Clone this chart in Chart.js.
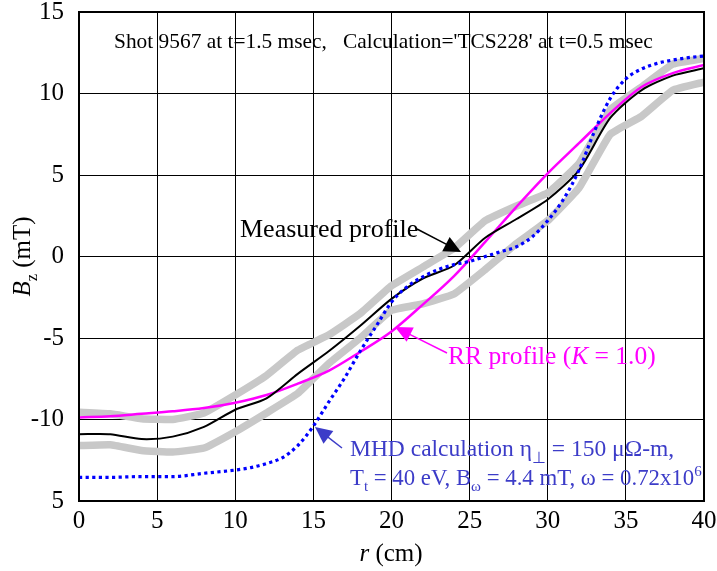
<!DOCTYPE html>
<html><head><meta charset="utf-8">
<script src="https://cdn.jsdelivr.net/npm/chart.js@4.4.1/dist/chart.umd.min.js"></script>
<style>html,body{margin:0;padding:0;background:#fff;}canvas{display:block;}</style>
</head><body>
<canvas id="c" width="717" height="571"></canvas>
<script>
// ---- data (r in cm, Bz in mT) ----
const rProfile = [0,2,4,6,8,10,12,14,16,18,20,22,24,26,28,30,32,34,36,38,40];
const measured = [-10.9,-10.9,-11.2,-11.05,-10.45,-9.4,-8.7,-7.2,-5.8,-4.25,-2.6,-1.35,-0.55,1.15,2.3,3.5,5.3,8.5,10.2,11.1,11.55];
const upperBand = [-9.55,-9.65,-9.95,-10.0,-9.6,-8.5,-7.3,-5.75,-4.8,-3.5,-1.8,-0.65,0.5,2.2,3.1,3.9,5.7,9.0,10.4,11.8,12.15];
const lowerBand = [-11.6,-11.55,-11.9,-12.0,-11.75,-10.75,-9.6,-8.4,-6.55,-5.0,-3.3,-2.9,-2.3,-0.8,0.8,2.2,4.2,7.5,8.6,10.2,10.7];
const rrProfile = [-9.87,-9.8,-9.65,-9.5,-9.3,-8.97,-8.5,-7.8,-7.0,-5.85,-4.6,-2.95,-1.2,0.9,3.05,5.1,6.95,8.8,10.4,11.25,11.75];
const rMHD = [0,2,4,6,8,10,11,12,13,14,15,16,17,18,19,20,21,22,23,24,25,26,27,28,29,30,31,32,33,34,35,36,37,38,39,40];
const mhd = [-13.55,-13.55,-13.5,-13.5,-13.3,-13.1,-12.95,-12.7,-12.35,-11.6,-10.4,-8.9,-7.45,-5.8,-4.3,-2.8,-1.85,-1.25,-0.8,-0.5,-0.3,0,0.3,0.6,1.2,2.2,3.5,5.3,7.7,9.7,10.9,11.5,11.85,12.05,12.2,12.3];
const xTickValues = [0,5,10,15,20,25,30,35,40];
const yTickValues = [-15,-10,-5,0,5,10,15];
const yTickLabels = ['5','-10','-5','0','5','10','15'];

const SERIF = '"Liberation Serif","Times New Roman",serif';
const pts = (xs, ys) => xs.map((x, i) => ({x: x, y: ys[i]}));

function rich(ctx, segs, x, y, size, color, align) {
  const fontFor = s => (s.it ? 'italic ' : '') + ((s.sub || s.sup) ? size * 0.66 : size) + 'px ' + SERIF;
  let w = 0;
  for (const s of segs) { ctx.font = fontFor(s); w += ctx.measureText(s.t).width; }
  let cx = align === 'center' ? x - w / 2 : (align === 'right' ? x - w : x);
  ctx.fillStyle = color; ctx.textBaseline = 'alphabetic'; ctx.textAlign = 'left';
  for (const s of segs) {
    ctx.font = fontFor(s);
    const dy = s.sub ? size * 0.28 : (s.sup ? -size * 0.38 : 0);
    ctx.fillText(s.t, cx, y + dy);
    cx += ctx.measureText(s.t).width;
  }
}
function arrow(ctx, x1, y1, x2, y2, color, head, hw) {
  const a = Math.atan2(y2 - y1, x2 - x1);
  ctx.strokeStyle = color; ctx.fillStyle = color; ctx.lineWidth = 1.5;
  ctx.beginPath(); ctx.moveTo(x1, y1);
  ctx.lineTo(x2 - Math.cos(a) * head * 0.8, y2 - Math.sin(a) * head * 0.8); ctx.stroke();
  ctx.beginPath(); ctx.moveTo(x2, y2);
  ctx.lineTo(x2 - Math.cos(a) * head + Math.sin(a) * hw, y2 - Math.sin(a) * head - Math.cos(a) * hw);
  ctx.lineTo(x2 - Math.cos(a) * head - Math.sin(a) * hw, y2 - Math.sin(a) * head + Math.cos(a) * hw);
  ctx.closePath(); ctx.fill();
}

const annotate = {
  id: 'annotate',
  afterDraw(chart) {
    const ctx = chart.ctx, a = chart.chartArea;
    ctx.save();
    ctx.strokeStyle = '#000'; ctx.lineWidth = 2;
    ctx.strokeRect(a.left, a.top, a.right - a.left, a.bottom - a.top);
    // header
    rich(ctx, [{t: "Shot 9567 at t=1.5 msec,   Calculation='TCS228' at t=0.5 msec"}], 114, 48, 21.4, '#000', 'left');
    // measured
    rich(ctx, [{t: 'Measured profile'}], 240, 237, 26, '#000', 'left');
    arrow(ctx, 417, 229, 461, 252, '#000', 17, 8);
    // RR
    rich(ctx, [{t: 'RR profile ('}, {t: 'K', it: true}, {t: ' = 1.0)'}], 448, 364, 25.5, '#ff00ff', 'left');
    arrow(ctx, 447, 353, 395, 327, '#ff00ff', 17, 8);
    // MHD
    const mc = '#3c3cc8';
    rich(ctx, [{t: 'MHD calculation \u03b7'}, {t: '\u22a5', sub: true}, {t: ' = 150 \u03bc\u03a9-m,'}], 350, 456, 23.5, mc, 'left');
    rich(ctx, [{t: 'T'}, {t: 't', sub: true}, {t: ' = 40 eV, B'}, {t: '\u03c9', sub: true}, {t: ' = 4.4 mT, \u03c9 = 0.72x10'}, {t: '6', sup: true}], 350, 485, 22.8, mc, 'left');
    arrow(ctx, 342, 448, 315, 427, mc, 17, 8);
    // axis titles
    rich(ctx, [{t: 'r', it: true}, {t: ' (cm)'}], 391, 561, 25, '#000', 'center');
    ctx.translate(30, (a.top + a.bottom) / 2);
    ctx.rotate(-Math.PI / 2);
    rich(ctx, [{t: 'B', it: true}, {t: 'z', sub: true}, {t: ' (mT)'}], 0, 0, 25, '#000', 'center');
    ctx.restore();
  }
};

new Chart(document.getElementById('c'), {
  type: 'line',
  data: {
    datasets: [
      {label: 'MHD calculation', data: pts(rMHD, mhd), borderColor: '#0000ff', borderWidth: 3.2, borderDash: [3.2, 3.4], pointRadius: 0, fill: false, cubicInterpolationMode: 'monotone'},
      {label: 'Measured profile', data: pts(rProfile, measured), borderColor: '#000', borderWidth: 2, pointRadius: 0, fill: false, tension: 0.25},
      {label: 'RR profile', data: pts(rProfile, rrProfile), borderColor: '#ff00ff', borderWidth: 2.5, pointRadius: 0, fill: false, cubicInterpolationMode: 'monotone'},
      {label: 'upper', data: pts(rProfile, upperBand), borderColor: '#c8c8c8', borderWidth: 7.5, pointRadius: 0, fill: false, tension: 0.1, borderJoinStyle: 'round', borderCapStyle: 'round'},
      {label: 'lower', data: pts(rProfile, lowerBand), borderColor: '#c8c8c8', borderWidth: 7.5, pointRadius: 0, fill: false, tension: 0.1, borderJoinStyle: 'round', borderCapStyle: 'round'}
    ]
  },
  options: {
    responsive: false, animation: false, devicePixelRatio: 1,
    layout: {padding: {top: 12, right: 13, left: 0, bottom: 0}},
    plugins: {legend: {display: false}, tooltip: {enabled: false}},
    scales: {
      x: {
        type: 'linear', min: 0, max: 40,
        afterBuildTicks: s => { s.ticks = xTickValues.map(v => ({value: v})); },
        afterFit: s => { s.height = 70; s.paddingLeft = 0; s.paddingRight = 0; },
        ticks: {color: '#000', font: {family: SERIF, size: 25}, padding: 5, maxRotation: 0, callback: v => String(v)},
        grid: {color: '#000', lineWidth: 1, drawTicks: false},
        border: {color: '#000', width: 2}
      },
      y: {
        type: 'linear', min: -15, max: 15,
        afterBuildTicks: s => { s.ticks = yTickValues.map(v => ({value: v})); },
        afterFit: s => { s.width = 79; s.paddingTop = 0; s.paddingBottom = 0; },
        ticks: {color: '#000', font: {family: SERIF, size: 25}, padding: 15, callback: v => yTickLabels[yTickValues.indexOf(v)]},
        grid: {color: '#000', lineWidth: 1, drawTicks: false},
        border: {color: '#000', width: 2}
      }
    }
  },
  plugins: [annotate]
});
</script>
</body></html>
